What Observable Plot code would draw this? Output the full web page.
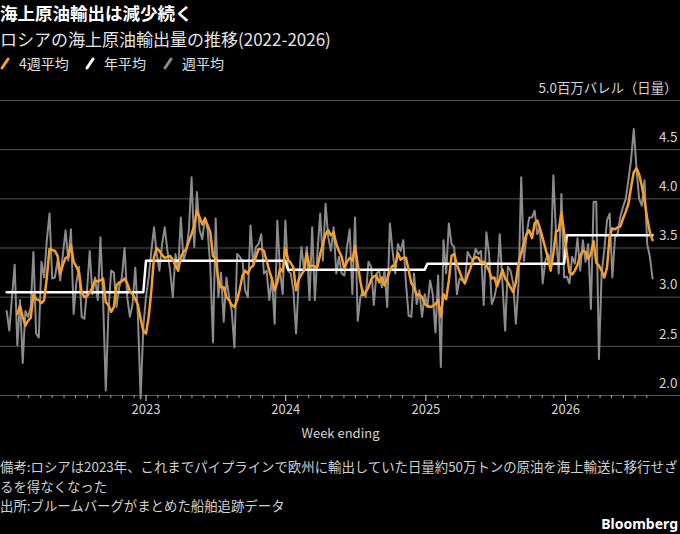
<!DOCTYPE html>
<html lang="ja">
<head>
<meta charset="utf-8">
<script src="https://cdn.jsdelivr.net/npm/d3@7"></script>
<script src="https://cdn.jsdelivr.net/npm/@observablehq/plot@0.6"></script>
<style>
html,body{margin:0;padding:0;background:#000;}
body{width:680px;height:534px;position:relative;overflow:hidden;font-family:"Noto Sans CJK JP","Noto Sans",sans-serif;color:#e6e6e6;}
.abs{position:absolute;left:0;white-space:nowrap;}
#title{top:2.4px;font-size:17.5px;font-weight:700;color:#fff;line-height:21px;}
#subtitle{top:27.5px;font-size:17px;line-height:21px;color:#e4e4e4;}
#legend{top:54px;font-size:14px;line-height:18px;color:#e0e0e0;width:680px;height:18px;}
.item{position:absolute;top:0;display:flex;align-items:center;}
.item svg{margin-right:9px;}
#chart{position:absolute;top:75px;left:0;}
#notes{top:457px;font-size:13.4px;line-height:19.5px;color:#d0d0d0;}
#brand{position:absolute;top:514px;right:2px;font-size:14px;font-weight:700;color:#fff;line-height:19px;font-family:"Noto Sans","DejaVu Sans",sans-serif;}
</style>
</head>
<body>
<div id="title" class="abs">海上原油輸出は減少続く</div>
<div id="subtitle" class="abs">ロシアの海上原油輸出量の推移(2022-2026)</div>
<div id="legend" class="abs"></div>
<div id="chart"></div>
<div id="notes" class="abs">備考:ロシアは2023年、これまでパイプラインで欧州に輸出していた日量約50万トンの原油を海上輸送に移行せざ<br>るを得なくなった<br>出所:ブルームバーグがまとめた船舶追跡データ</div>
<div id="brand">Bloomberg</div>
<script>
// ---- data ----
const startWeek = "2022-01-02"; // first week-ending date, weekly thereafter

// 週平均 (weekly), million barrels per day
const weekly = [
  2.86, 2.66, 3.00, 3.33, 2.51, 2.97, 2.33, 2.86, 2.80, 2.90,
  3.46, 2.63, 2.59, 3.36, 3.20, 3.58, 3.85, 3.19, 3.20, 3.37,
  3.17, 3.44, 3.68, 3.37, 3.69, 2.83, 3.14, 3.31, 2.80, 2.78,
  3.07, 3.47, 3.03, 3.20, 2.97, 3.61, 2.97, 2.05, 2.86, 3.27,
  3.25,
  2.90, 3.10, 3.20, 3.50, 3.00, 2.80, 2.93, 3.30, 2.80, 1.97,
  2.70, 3.00, 3.20, 3.47, 3.71, 3.44, 3.27, 3.54, 3.71, 3.47,
  3.27, 3.00, 3.44, 3.27, 3.81, 3.37, 3.47, 3.68, 4.22, 3.51,
  4.07, 3.68, 3.59, 3.81, 3.68, 3.31, 2.54, 3.80, 3.00, 3.25,
  2.75, 3.20,
  3.00, 2.86, 2.49, 3.44, 3.41, 3.37, 3.07, 3.00, 3.73, 3.34,
  3.51, 3.54, 3.64, 3.24, 3.27, 2.97, 3.20, 2.73, 3.78, 3.27,
  3.03, 3.78, 3.27, 3.24, 3.07, 2.63, 3.17, 3.51, 3.27, 3.51,
  2.97, 3.71, 2.97, 3.47, 3.85, 3.37, 3.95, 3.61, 3.47, 3.71,
  3.24, 3.41,
  3.24, 3.22, 3.51, 3.69, 3.03, 3.81, 2.76, 3.00, 3.07, 3.00,
  3.36, 3.31, 2.92, 3.24, 3.27, 3.10, 3.27, 2.90, 3.75, 3.47,
  3.24, 3.54, 3.47, 3.58, 3.14, 2.81, 2.80, 3.24, 2.93, 3.07,
  2.80, 3.03, 2.90, 3.17, 3.03, 2.64, 3.22, 2.29, 3.58, 3.24,
  3.75, 3.54,
  3.51, 3.03, 3.19, 3.17, 3.14, 3.46, 3.41, 3.37, 3.49, 3.44,
  3.47, 2.92, 3.66, 3.44, 2.93, 3.00, 3.14, 3.64, 3.14, 2.66,
  3.31, 3.27, 3.14, 2.73, 3.14, 4.22, 3.37, 3.64, 3.81, 3.81,
  3.88, 3.64, 3.71, 3.14, 3.37, 3.44, 3.37, 4.24, 3.64, 3.24,
  4.05, 3.20,
  3.21, 3.14, 3.41, 3.34, 3.60, 3.27, 3.58, 3.36, 3.54, 2.88,
  3.97, 3.97, 2.37, 3.24, 3.48, 3.78, 3.85, 3.20, 3.61, 3.65,
  3.82, 3.92, 4.00, 4.19, 4.40, 4.71, 4.31, 4.00, 3.93, 4.19,
  3.54, 3.41, 3.19
];

// 4週平均 (4-week average), same weeks
const avg4w = [
  null, null, null, null,
  2.83, 2.91, 2.80, 2.71, 2.76, 2.79, 3.03, 2.98, 2.97, 2.94,
  2.97, 3.20, 3.49, 3.48, 3.47, 3.42, 3.24, 3.33, 3.40, 3.41,
  3.53, 3.36, 3.31, 3.25, 3.05, 3.00, 3.01, 3.05, 3.10, 3.17,
  3.16, 3.17, 3.19, 2.95, 2.92, 2.85, 2.90,
  3.12, 3.15, 3.16, 3.19, 3.14, 3.06, 3.03, 2.98, 2.92, 2.78,
  2.66, 2.63, 2.80, 3.07, 3.41, 3.50, 3.47, 3.43, 3.40, 3.41,
  3.42, 3.38, 3.32, 3.27, 3.41, 3.46, 3.49, 3.57, 3.64, 3.73,
  3.88, 3.81, 3.74, 3.80, 3.73, 3.66, 3.42, 3.39, 3.17, 3.10,
  3.10, 3.00,
  2.97, 2.92, 2.90, 2.97, 3.08, 3.22, 3.27, 3.24, 3.30, 3.32,
  3.41, 3.49, 3.49, 3.47, 3.37, 3.27, 3.18, 3.07, 3.15, 3.29,
  3.26, 3.50, 3.38, 3.35, 3.30, 3.07, 3.18, 3.23, 3.27, 3.45,
  3.31, 3.32, 3.31, 3.31, 3.44, 3.54, 3.64, 3.68, 3.63, 3.66,
  3.54, 3.47,
  3.41, 3.29, 3.36, 3.40, 3.37, 3.52, 3.33, 3.16, 3.02, 3.05,
  3.10, 3.18, 3.21, 3.22, 3.15, 3.20, 3.12, 3.19, 3.27, 3.32,
  3.32, 3.45, 3.38, 3.40, 3.40, 3.27, 3.14, 3.10, 3.02, 3.03,
  3.00, 2.93, 2.91, 2.90, 2.91, 2.93, 2.97, 2.80, 3.03, 2.98,
  3.17, 3.42,
  3.44, 3.33, 3.26, 3.19, 3.14, 3.22, 3.29, 3.38, 3.41, 3.40,
  3.35, 3.36, 3.32, 3.27, 3.19, 3.20, 3.11, 3.19, 3.28, 3.19,
  3.15, 3.10, 3.05, 3.15, 3.35, 3.45, 3.55, 3.64, 3.68, 3.60,
  3.75, 3.78, 3.70, 3.60, 3.50, 3.39, 3.27, 3.45, 3.67, 3.68,
  3.86, 3.66,
  3.45, 3.25, 3.23, 3.27, 3.33, 3.42, 3.47, 3.46, 3.39, 3.44,
  3.57, 3.35, 3.32, 3.27, 3.20, 3.30, 3.62, 3.70, 3.69, 3.71,
  3.72, 3.80, 3.87, 3.95, 4.12, 4.27, 4.31, 4.25, 4.13, 3.98,
  3.80, 3.66, 3.58
];

// 年平均 (annual average)
const years = [2022, 2023, 2024, 2025, 2026];
const annualAvg = [3.05, 3.37, 3.28, 3.34, 3.63];

// axis ticks
const yTicks = [2.0, 2.5, 3.0, 3.5, 4.0, 4.5, 5.0];
const yTickLabels = ["2.0", "2.5", "3.0", "3.5", "4.0", "4.5", "5.0百万バレル（日量）"];
const yearTicks = [2023, 2024, 2025, 2026];

// series names and colours
const seriesNames = ["4週平均", "年平均", "週平均"];
const seriesColors = ["#f5a02c", "#ffffff", "#8c8c8c"];

// ---- build table ----
const start = new Date(startWeek + "T00:00:00Z");
const rows = weekly.map((v, i) => {
  const date = d3.utcDay.offset(start, 7 * i);
  return {
    date,
    weekly: v,
    avg4: avg4w[i],
    annual: annualAvg[years.indexOf(date.getUTCFullYear())]
  };
});

// ---- legend ----
const legend = document.getElementById("legend");
const legendLeft = [0, 85, 163];
seriesNames.forEach((name, i) => {
  const item = document.createElement("div");
  item.className = "item";
  item.style.left = legendLeft[i] + "px";
  item.innerHTML = `<svg width="10" height="14" viewBox="0 0 10 14"><line x1="2" y1="12" x2="8" y2="3" stroke="${seriesColors[i]}" stroke-width="3" stroke-linecap="round"/></svg><span>${name}</span>`;
  legend.appendChild(item);
});

// ---- chart ----
const font = '"Noto Sans CJK JP","Noto Sans",sans-serif';
const yearDates = yearTicks.map(y => new Date(Date.UTC(y, 0, 1)));
const monthDates = d3.utcMonth.range(new Date(Date.UTC(2022, 1, 1)), new Date(Date.UTC(2026, 8, 1)))
  .filter(d => d.getUTCMonth() !== 0);

const chart = Plot.plot({
  width: 680,
  height: 375,
  marginTop: 25,
  marginBottom: 55,
  marginLeft: 0,
  marginRight: 0,
  style: {background: "transparent", color: "#cccccc", fontFamily: font, fontSize: "13px", overflow: "visible"},
  x: {type: "utc", domain: [new Date(Date.UTC(2021, 11, 17)), new Date(Date.UTC(2026, 9, 28))]},
  y: {domain: [2, 5], axis: null},
  marks: [
    Plot.ruleY(yTicks, {stroke: "#555555", strokeWidth: 1}),
    Plot.text(yTicks, {
      y: d => d, text: (d, i) => yTickLabels[i],
      frameAnchor: "right", textAnchor: "end", dx: -3, dy: -12,
      fill: "#d4d4d4", fontSize: 13.4
    }),
    Plot.axisX({ticks: monthDates, tickSize: 3, tickFormat: () => "", stroke: "#aaaaaa", label: null}),
    Plot.axisX({ticks: yearDates, tickSize: 6, tickPadding: 3, tickFormat: "%Y", stroke: "#dddddd", fill: "#d4d4d4", fontSize: 13, label: null}),
    Plot.text(["Week ending"], {frameAnchor: "bottom", dy: 42, fill: "#d4d4d4", fontSize: 13}),
    Plot.line(rows, {x: "date", y: "weekly", stroke: seriesColors[2], strokeWidth: 2}),
    Plot.line(rows, {x: "date", y: "annual", stroke: seriesColors[1], strokeWidth: 2.5}),
    Plot.line(rows.filter(d => d.avg4 != null), {x: "date", y: "avg4", stroke: seriesColors[0], strokeWidth: 2.5})
  ]
});
document.getElementById("chart").appendChild(chart);
</script>
</body>
</html>
